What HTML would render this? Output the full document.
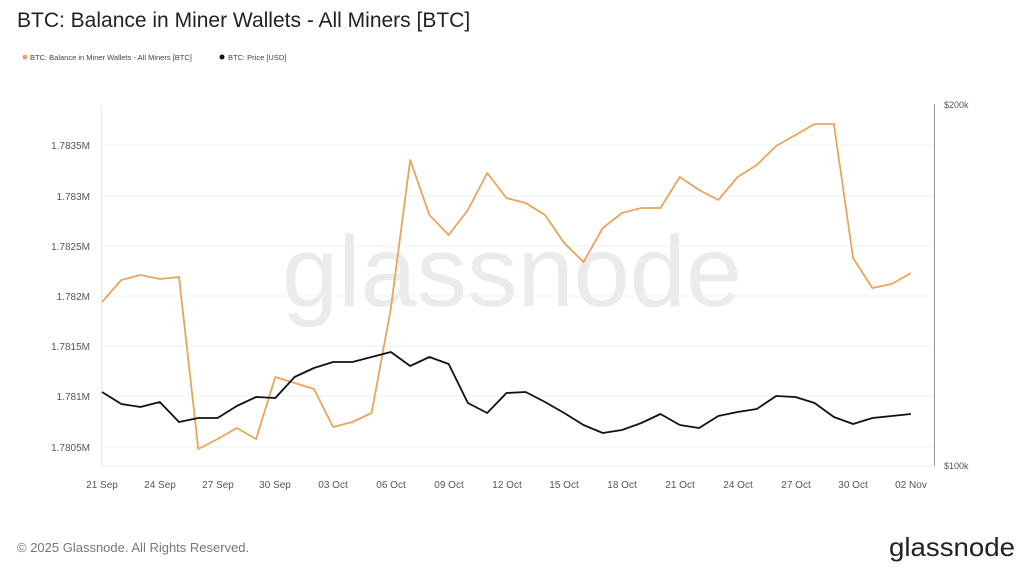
<!DOCTYPE html>
<html><head><meta charset="utf-8"><style>
body{margin:0;background:#fff;width:1024px;height:576px;overflow:hidden;font-family:"Liberation Sans",sans-serif;}
</style></head><body>
<svg width="1024" height="576" xmlns="http://www.w3.org/2000/svg" font-family="Liberation Sans, sans-serif">
<rect width="1024" height="576" fill="#fff"/>
<text x="17" y="27" font-size="21" fill="#222">BTC: Balance in Miner Wallets - All Miners [BTC]</text>
<circle cx="25" cy="57" r="2.5" fill="#e8a860"/>
<text x="30" y="60" font-size="7.5" fill="#444">BTC: Balance in Miner Wallets - All Miners [BTC]</text>
<circle cx="222" cy="57" r="2.5" fill="#111"/>
<text x="228" y="60" font-size="7.5" fill="#444">BTC: Price [USD]</text>
<text x="512" y="306" font-size="100" fill="#ebebeb" text-anchor="middle" textLength="460" lengthAdjust="spacingAndGlyphs">glassnode</text>
<g stroke="#f1f1f1" stroke-width="1">
<line x1="102" x2="934" y1="145" y2="145"/><line x1="102" x2="934" y1="196" y2="196"/>
<line x1="102" x2="934" y1="246" y2="246"/><line x1="102" x2="934" y1="296" y2="296"/>
<line x1="102" x2="934" y1="346" y2="346"/><line x1="102" x2="934" y1="396" y2="396"/>
<line x1="102" x2="934" y1="447" y2="447"/><line x1="102" x2="934" y1="466" y2="466"/>
</g>
<line x1="101.5" x2="101.5" y1="107" y2="466" stroke="#f1e8d6"/>
<line x1="934.5" x2="934.5" y1="104" y2="466" stroke="#999"/>
<g font-size="10" fill="#555" text-anchor="end">
<text x="90" y="149">1.7835M</text><text x="90" y="200">1.783M</text><text x="90" y="250">1.7825M</text>
<text x="90" y="300">1.782M</text><text x="90" y="350">1.7815M</text><text x="90" y="400">1.781M</text><text x="90" y="451">1.7805M</text>
</g>
<g font-size="9" fill="#555"><text x="944" y="108">$200k</text><text x="944" y="469">$100k</text></g>
<g font-size="10" fill="#555" text-anchor="middle">
<text x="102" y="488">21 Sep</text><text x="160" y="488">24 Sep</text><text x="218" y="488">27 Sep</text>
<text x="275" y="488">30 Sep</text><text x="333" y="488">03 Oct</text><text x="391" y="488">06 Oct</text>
<text x="449" y="488">09 Oct</text><text x="507" y="488">12 Oct</text><text x="564" y="488">15 Oct</text>
<text x="622" y="488">18 Oct</text><text x="680" y="488">21 Oct</text><text x="738" y="488">24 Oct</text>
<text x="796" y="488">27 Oct</text><text x="853" y="488">30 Oct</text><text x="911" y="488">02 Nov</text>
</g>
<polyline fill="none" stroke="#e8a55a" stroke-width="1.8" stroke-linejoin="round" points="102,302 121.3,280 140.5,275 159.8,279 179,277 198.3,449 217.6,439 236.8,428 256.1,439 275.3,377 294.6,383 313.9,389 333.1,427 352.4,422 371.6,413 390.9,308 410.2,160 429.4,215 448.7,235 467.9,210 487.2,173 506.5,198 525.7,203 545,215 564.2,243 583.5,262 602.8,228 622,213 641.3,208 660.5,208 679.8,177 699.1,190 718.3,200 737.6,177 756.8,165 776.1,146 795.4,135 814.6,124 833.9,124 853.1,258 872.4,288 891.7,284 910.9,273"/>
<polyline fill="none" stroke="#111" stroke-width="1.8" stroke-linejoin="round" points="102,392 121.3,404 140.5,407 159.8,402 179,422 198.3,418 217.6,418 236.8,406 256.1,397 275.3,398 294.6,377 313.9,368 333.1,362 352.4,362 371.6,357 390.9,352 410.2,366 429.4,357 448.7,364 467.9,403 487.2,413 506.5,393 525.7,392 545,402 564.2,413 583.5,425 602.8,433 622,430 641.3,423 660.5,414 679.8,425 699.1,428 718.3,416 737.6,412 756.8,409 776.1,396 795.4,397 814.6,403 833.9,417 853.1,424 872.4,418 891.7,416 910.9,414"/>
<text x="17" y="552" font-size="13" fill="#777">© 2025 Glassnode. All Rights Reserved.</text>
<text x="1015" y="556" font-size="26" fill="#222" text-anchor="end" textLength="126" lengthAdjust="spacingAndGlyphs">glassnode</text>
</svg>
</body></html>
